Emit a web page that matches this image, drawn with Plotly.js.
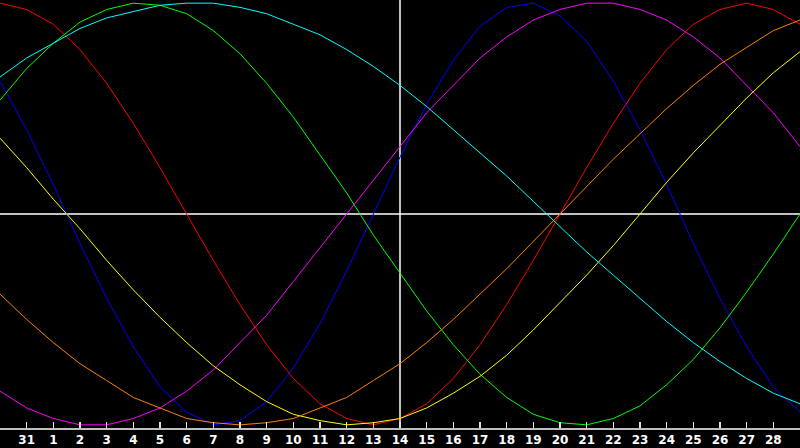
<!DOCTYPE html>
<html>
<head>
<meta charset="utf-8">
<script src="https://cdn.plot.ly/plotly-3.0.1.min.js"></script>
<style>
  html, body { margin: 0; padding: 0; background: #000; }
  #chart { width: 800px; height: 448px; }
</style>
</head>
<body>
<div id="chart"></div>
<script>
// days shown on the chart, first and last are only the edges
var dayLabels = [30, 31, 1, 2, 3, 4, 5, 6, 7, 8, 9, 10, 11, 12, 13, 14,
	15, 16, 17, 18, 19, 20, 21, 22, 23, 24, 25, 26, 27, 28, 29];
var today = 14;

// cycle values per day, -1 .. 1
var physical = [0.63, 0.40, 0.14, -0.14, -0.40, -0.63, -0.82, -0.94, -1.00, -0.98, -0.89, -0.73, -0.52, -0.27, 0,
	0.27, 0.52, 0.73, 0.89, 0.98, 1.00, 0.94, 0.82, 0.63, 0.40, 0.14, -0.14, -0.40, -0.63, -0.82, -0.94];
var emotional = [1.00, 0.97, 0.90, 0.78, 0.62, 0.43, 0.22, 0, -0.22, -0.43, -0.62, -0.78, -0.90, -0.97, -1.00,
	-0.97, -0.90, -0.78, -0.62, -0.43, -0.22, 0, 0.22, 0.43, 0.62, 0.78, 0.90, 0.97, 1.00, 0.97, 0.90];
var intellectual = [0.54, 0.69, 0.81, 0.91, 0.97, 1.00, 0.99, 0.95, 0.87, 0.76, 0.62, 0.46, 0.28, 0.10, -0.10,
	-0.28, -0.46, -0.62, -0.76, -0.87, -0.95, -0.99, -1.00, -0.97, -0.91, -0.81, -0.69, -0.54, -0.37, -0.19, 0];
var intuitive = [-0.84, -0.92, -0.97, -1.00, -1.00, -0.97, -0.92, -0.84, -0.74, -0.61, -0.48, -0.32, -0.16, 0, 0.16,
	0.32, 0.48, 0.61, 0.74, 0.84, 0.92, 0.97, 1.00, 1.00, 0.97, 0.92, 0.84, 0.74, 0.61, 0.48, 0.32];
var aesthetic = [0.36, 0.22, 0.07, -0.07, -0.22, -0.36, -0.49, -0.61, -0.72, -0.81, -0.89, -0.95, -0.98, -1.00, -0.99,
	-0.97, -0.92, -0.85, -0.77, -0.67, -0.55, -0.42, -0.29, -0.15, 0, 0.15, 0.29, 0.42, 0.55, 0.67, 0.77];
var awareness = [-0.38, -0.50, -0.61, -0.71, -0.79, -0.87, -0.92, -0.97, -0.99, -1.00, -0.99, -0.97, -0.92, -0.87, -0.79,
	-0.71, -0.61, -0.50, -0.38, -0.26, -0.13, 0, 0.13, 0.26, 0.38, 0.50, 0.61, 0.71, 0.79, 0.87, 0.92];
var spiritual = [0.65, 0.74, 0.81, 0.88, 0.93, 0.96, 0.99, 1.00, 1.00, 0.98, 0.95, 0.90, 0.85, 0.78, 0.70,
	0.61, 0.51, 0.40, 0.29, 0.18, 0.06, -0.06, -0.18, -0.29, -0.40, -0.51, -0.61, -0.70, -0.78, -0.85, -0.90];

var x_values = dayLabels.map(function (d, i) { return i; });

function cycle(name, values, colour) {
	return {
		x: x_values,
		y: values,
		type: 'scatter',
		mode: 'lines',
		name: name,
		line: { color: colour, width: 1, shape: 'linear' },
		hoverinfo: 'skip'
	};
}

var data = [
	cycle('Physical', physical, '#0000ff'),
	cycle('Emotional', emotional, '#ff0000'),
	cycle('Intellectual', intellectual, '#00ff00'),
	cycle('Intuitive', intuitive, '#ff00ff'),
	cycle('Aesthetic', aesthetic, '#ffff00'),
	cycle('Awareness', awareness, '#ff8000'),
	cycle('Spiritual', spiritual, '#00ffff')
];

var today_index = dayLabels.indexOf(today);

var layout = {
	width: 800,
	height: 448,
	margin: { l: 0, r: 0, t: 0, b: 20, pad: 0 },
	paper_bgcolor: '#000000',
	plot_bgcolor: '#000000',
	showlegend: false,
	xaxis: {
		range: [0, dayLabels.length - 1],
		tickmode: 'array',
		tickvals: x_values.slice(1, -1),
		ticktext: dayLabels.slice(1, -1).map(String),
		ticks: 'inside',
		ticklen: 6,
		tickwidth: 1.5,
		tickcolor: '#e0e0e0',
		tickfont: { family: 'DejaVu Sans', size: 12, color: '#ffffff', weight: 'bold' },
		showgrid: false,
		zeroline: false,
		showline: true,
		linecolor: '#c0c0c0',
		linewidth: 2,
		mirror: true,
		fixedrange: true
	},
	yaxis: {
		range: [-1.015, 1.015],
		showticklabels: false,
		ticks: '',
		showgrid: false,
		zeroline: false,
		showline: true,
		linecolor: '#c0c0c0',
		linewidth: 2,
		fixedrange: true
	},
	shapes: [
		{
			type: 'line', layer: 'below',
			xref: 'x', yref: 'paper',
			x0: today_index, x1: today_index, y0: 0, y1: 1,
			line: { color: '#ffffff', width: 1.5 }
		},
		{
			type: 'line', layer: 'below',
			xref: 'paper', yref: 'y',
			x0: 0, x1: 1, y0: 0, y1: 0,
			line: { color: '#ffffff', width: 1.5 }
		}
	]
};

Plotly.newPlot('chart', data, layout, { displayModeBar: false, staticPlot: true });
</script>
</body>
</html>
